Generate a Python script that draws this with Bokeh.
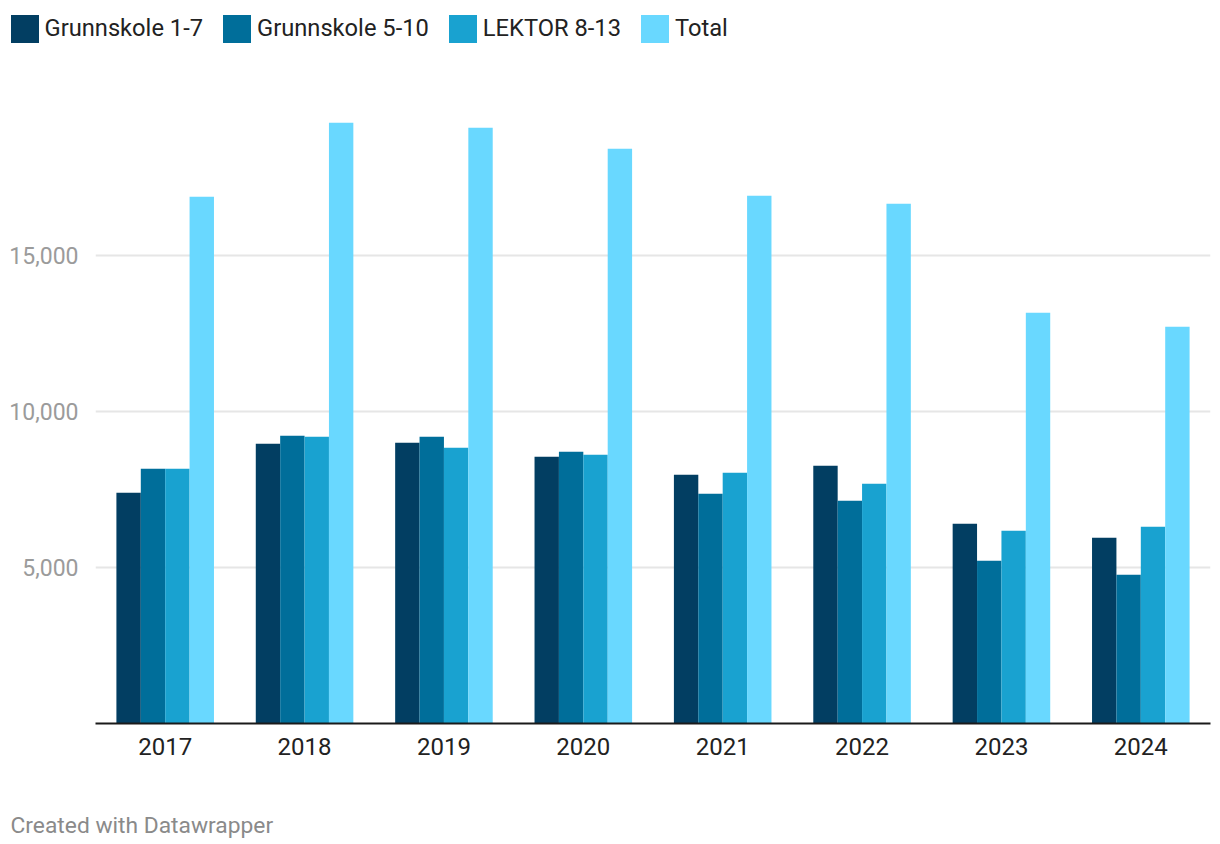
from bokeh.plotting import figure
from bokeh.layouts import column
from bokeh.models import (ColumnDataSource, FactorRange, FixedTicker, Legend, LegendItem,
                          NumeralTickFormatter, Range1d)
from bokeh.transform import dodge
from bokeh.core.properties import value
from bokeh.embed import file_html
from bokeh.resources import INLINE

years = ["2017", "2018", "2019", "2020", "2021", "2022", "2023", "2024"]
grunnskole_1_7 = [7394, 8965, 8997, 8548, 7971, 8260, 6401, 5952]
grunnskole_5_10 = [8163, 9221, 9189, 8708, 7362, 7138, 5215, 4766]
lektor_8_13 = [8163, 9189, 8837, 8612, 8035, 7683, 6176, 6304]
total = [16881, 19253, 19093, 18420, 16913, 16657, 13163, 12715]

series_names = ["Grunnskole 1-7", "Grunnskole 5-10", "LEKTOR 8-13", "Total"]
series_keys = ["g17", "g510", "lek", "tot"]
colors = ["#023e62", "#006e9a", "#19a2d0", "#69d8ff"]
y_ticks = [5000, 10000, 15000]
footer_text = "Created with Datawrapper"

FONT = "Roboto"
W = 1212


def bare(fig):
    fig.axis.visible = False
    fig.grid.grid_line_color = None
    fig.outline_line_color = None
    fig.background_fill_color = "white"
    fig.border_fill_color = "white"
    fig.frame_align = False


# ---------- legend strip ----------
LH = 50
lg = figure(width=W, height=LH, x_range=Range1d(0, W), y_range=Range1d(0, LH),
            output_backend="svg", toolbar_location=None,
            min_border=0, min_border_left=0, min_border_right=0,
            min_border_top=0, min_border_bottom=0)
bare(lg)
dummy = ColumnDataSource(dict(x=[0], top=[0]))
leg_renderers = [lg.vbar(x="x", top="top", width=1, source=dummy, fill_color=c, line_color=None)
                 for c in colors]
legend = Legend(items=[LegendItem(label=n, renderers=[r]) for n, r in zip(series_names, leg_renderers)],
                orientation="horizontal", location=(6.5, 4.5),
                glyph_width=35, glyph_height=35, label_standoff=3, spacing=16,
                padding=0, margin=0, border_line_color=None, background_fill_alpha=0,
                label_text_font=FONT, label_text_font_size="23.7px", label_text_color="#222222")
lg.add_layout(legend, "center")

# ---------- main chart ----------
source = ColumnDataSource(dict(year=years, g17=grunnskole_1_7, g510=grunnskole_5_10,
                               lek=lektor_8_13, tot=total))
FRAME_H = 673
BOTTOM = 45
px_per_unit = 156 / 5000
p = figure(x_range=FactorRange(*years), y_range=(0, FRAME_H / px_per_unit),
           width=W, height=FRAME_H + BOTTOM, output_backend="svg", toolbar_location=None,
           min_border_left=95, min_border_right=2, min_border_top=0, min_border_bottom=BOTTOM)
p.outline_line_color = None
p.background_fill_color = "white"
p.border_fill_color = "white"
p.frame_align = False

bw = 0.175
offsets = [-1.5 * bw, -0.5 * bw, 0.5 * bw, 1.5 * bw]
for key, col, off in zip(series_keys, colors, offsets):
    p.vbar(x=dodge("year", off, range=p.x_range), top=key, width=bw, source=source,
           fill_color=col, line_color=None)

p.yaxis.ticker = FixedTicker(ticks=y_ticks)
p.yaxis.formatter = NumeralTickFormatter(format="0,0")
p.yaxis.axis_line_color = None
p.yaxis.major_tick_line_color = None
p.yaxis.minor_tick_line_color = None
p.yaxis.major_label_text_font = FONT
p.yaxis.major_label_text_font_size = "23px"
p.yaxis.major_label_text_color = "#9b9b9b"
p.yaxis.major_label_standoff = 11

p.xaxis.axis_line_color = "#1a1a1a"
p.xaxis.axis_line_width = 2
p.xaxis.major_tick_line_color = None
p.xaxis.minor_tick_line_color = None
p.xaxis.major_label_text_font = FONT
p.xaxis.major_label_text_font_size = "24px"
p.xaxis.major_label_text_color = "#222222"
p.xaxis.major_label_standoff = 8

p.xgrid.grid_line_color = None
p.ygrid.ticker = FixedTicker(ticks=y_ticks)
p.ygrid.grid_line_color = "#e6e6e6"
p.ygrid.grid_line_width = 2

# ---------- footer strip ----------
FH = 70
ft = figure(width=W, height=FH, x_range=Range1d(0, W), y_range=Range1d(0, FH),
            output_backend="svg", toolbar_location=None,
            min_border=0, min_border_left=0, min_border_right=0,
            min_border_top=0, min_border_bottom=0)
bare(ft)
ft.text(x=[10], y=[13], text=[footer_text], text_font=value(FONT), text_font_size="22.8px",
        text_color="#8a8a8a", text_baseline="alphabetic", text_align="left")

layout = column(lg, p, ft, spacing=0)
open("out.html", "w").write(file_html(layout, INLINE))
